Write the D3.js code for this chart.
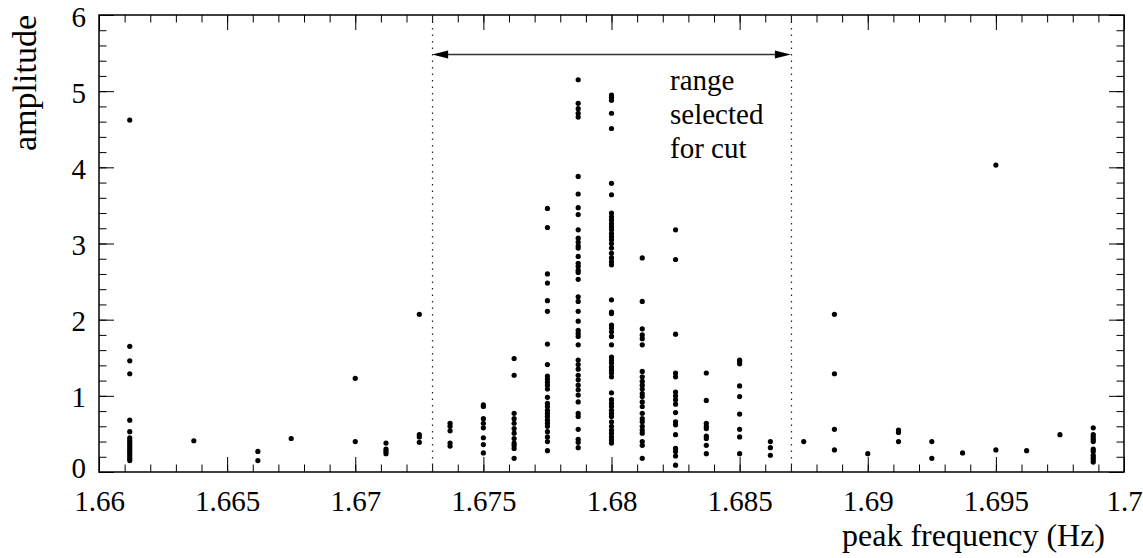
<!DOCTYPE html>
<html>
<head>
<meta charset="utf-8">
<script src="https://cdn.jsdelivr.net/npm/d3@7/dist/d3.min.js"></script>
<style>
body { margin: 0; background: #fff; }
svg text { font-family: "Liberation Serif", "Times New Roman", serif; fill: #000; }
</style>
</head>
<body>
<div id="chart"></div>
<script>
// peak frequency of each column of points (Hz)
var freqs = [1.6612, 1.6637, 1.6662, 1.6675, 1.67, 1.6712, 1.6725, 1.6737, 1.675, 1.6762,
    1.6775, 1.6787, 1.68, 1.6812, 1.6825, 1.6837, 1.685, 1.6862, 1.6875, 1.6887,
    1.69, 1.6912, 1.6925, 1.6937, 1.695, 1.6962, 1.6975, 1.6988]

// amplitudes found at each of those frequencies
var amps = [
    [4.62, 1.65, 1.46, 1.29, 0.68, 0.53, 0.45, 0.42, 0.39, 0.36, 0.33, 0.30, 0.27, 0.24, 0.21, 0.18, 0.15],
    [0.41],
    [0.27, 0.15],
    [0.44],
    [1.23, 0.40],
    [0.38, 0.30, 0.27, 0.24],
    [2.07, 0.49, 0.46, 0.39],
    [0.64, 0.60, 0.54, 0.38, 0.34],
    [0.88, 0.86, 0.70, 0.64, 0.58, 0.45, 0.36, 0.25],
    [1.49, 1.27, 0.77, 0.70, 0.64, 0.57, 0.51, 0.44, 0.38, 0.35, 0.31, 0.18],
    [3.46, 3.21, 2.60, 2.48, 2.25, 2.11, 1.68, 1.41, 1.26, 1.22, 1.18, 1.14, 1.09, 0.98, 0.90, 0.86,
     0.81, 0.77, 0.73, 0.68, 0.64, 0.60, 0.53, 0.46, 0.40, 0.28],
    [5.15, 4.84, 4.77, 4.71, 4.66, 3.88, 3.65, 3.47, 3.38, 3.18, 3.07, 3.02, 2.97, 2.94, 2.83, 2.74,
     2.70, 2.65, 2.62, 2.53, 2.30, 2.24, 2.11, 1.98, 1.86, 1.82, 1.78, 1.67, 1.47, 1.41, 1.35, 1.27,
     1.21, 1.14, 1.08, 1.01, 0.92, 0.77, 0.73, 0.56, 0.43, 0.39, 0.32],
    [4.95, 4.92, 4.88, 4.71, 4.51, 3.79, 3.64, 3.40, 3.35, 3.31, 3.26, 3.22, 3.18, 3.13, 3.09, 3.05,
     3.00, 2.94, 2.87, 2.81, 2.76, 2.72, 2.26, 2.10, 2.08, 1.93, 1.89, 1.84, 1.78, 1.67, 1.51, 1.47,
     1.43, 1.38, 1.34, 1.30, 1.25, 1.04, 0.95, 0.90, 0.86, 0.81, 0.77, 0.73, 0.66, 0.60, 0.55, 0.51,
     0.46, 0.42, 0.38],
    [2.81, 2.24, 1.88, 1.80, 1.75, 1.67, 1.32, 1.25, 1.19, 1.14, 1.09, 1.03, 0.99, 0.92, 0.86, 0.77,
     0.70, 0.66, 0.60, 0.55, 0.51, 0.40, 0.35, 0.18],
    [3.18, 2.79, 1.81, 1.30, 1.25, 1.05, 1.00, 0.95, 0.89, 0.78, 0.66, 0.62, 0.49, 0.31, 0.27, 0.21, 0.09],
    [1.30, 0.94, 0.64, 0.60, 0.57, 0.47, 0.44, 0.35, 0.24],
    [1.47, 1.45, 1.42, 1.13, 0.99, 0.76, 0.56, 0.46, 0.24],
    [0.40, 0.32, 0.22],
    [0.40],
    [2.07, 1.29, 0.56, 0.29],
    [0.24],
    [0.55, 0.52, 0.40],
    [0.40, 0.18],
    [0.25],
    [4.03, 0.29],
    [0.28],
    [0.49],
    [0.58, 0.49, 0.46, 0.43, 0.40, 0.30, 0.27, 0.22, 0.19, 0.16, 0.13]
]

var xMajor = [1.66, 1.665, 1.67, 1.675, 1.68, 1.685, 1.69, 1.695, 1.7]
var yMajor = [0, 1, 2, 3, 4, 5, 6]
var cutRange = [1.673, 1.687]
var cutLabel = ["range", "selected", "for cut"]

function draw() {
    var width = 1143, height = 558
    var margin = {left: 99, right: 19, top: 15, bottom: 86}
    var font = '"Liberation Serif", "Times New Roman", serif'

    var svg = d3.select("#chart").append("svg")
        .attr("width", width)
        .attr("height", height)
        .attr("font-family", font)

    var x = d3.scaleLinear().domain([1.66, 1.7]).range([margin.left, width - margin.right])
    var y = d3.scaleLinear().domain([0, 6]).range([height - margin.bottom, margin.top])

    var xMinor = d3.range(0, 41).map((i) => 1.66 + i * 0.001)
    var yMinor = d3.range(0, 31).map((i) => i * 0.2)
    var fmt = (d) => String(+d.toFixed(4))

    var bottom = height - margin.bottom, top = margin.top
    var left = margin.left, right = width - margin.right

    // ticks on all four sides, pointing inward
    function addAxis(axis, tx, ty, vals, size, labels, pad) {
        var g = svg.append("g")
            .attr("transform", "translate(" + tx + "," + ty + ")")
            .call(axis.tickValues(vals).tickSize(size).tickPadding(pad || 3)
                .tickFormat(labels ? fmt : ""))
        g.select(".domain").remove()
        g.attr("font-family", font)
        g.selectAll("line").attr("stroke", "#000")
        g.selectAll("text").attr("font-size", 29)
        return g
    }

    addAxis(d3.axisBottom(x), 0, bottom, xMinor, -7.5, false)
    addAxis(d3.axisBottom(x), 0, bottom, xMajor, -15, true, 18)
    addAxis(d3.axisTop(x), 0, top, xMinor, -7.5, false)
    addAxis(d3.axisTop(x), 0, top, xMajor, -15, false)
    addAxis(d3.axisLeft(y), left, 0, yMinor, -7.5, false)
    addAxis(d3.axisLeft(y), left, 0, yMajor, -15, true, 13)
        .selectAll("text").attr("dy", (d) => d == 0 ? "0.18em" : "0.38em")
    addAxis(d3.axisRight(y), right, 0, yMinor, -7.5, false)
    addAxis(d3.axisRight(y), right, 0, yMajor, -15, false)

    svg.append("rect")
        .attr("x", left).attr("y", top)
        .attr("width", right - left).attr("height", bottom - top)
        .attr("fill", "none")
        .attr("stroke", "#000")
        .attr("stroke-width", 1.5)

    // cut range: dotted lines and double arrow
    svg.append("g").selectAll("line")
        .data(cutRange)
        .enter().append("line")
        .attr("x1", (d) => Math.round(x(d)) + 0.5)
        .attr("x2", (d) => Math.round(x(d)) + 0.5)
        .attr("y1", top)
        .attr("y2", bottom)
        .attr("stroke", "#222")
        .attr("stroke-width", 1.2)
        .attr("stroke-dasharray", "1.5,5")

    var arrowY = 54.5
    var x0 = x(cutRange[0]), x1 = x(cutRange[1])
    svg.append("line")
        .attr("x1", x0 + 10).attr("x2", x1 - 10)
        .attr("y1", arrowY).attr("y2", arrowY)
        .attr("stroke", "#333")
        .attr("stroke-width", 1.3)
    svg.append("path")
        .attr("d", "M" + x0 + "," + arrowY + "L" + (x0 + 16) + "," + (arrowY - 4) +
            "L" + (x0 + 16) + "," + (arrowY + 4) + "Z")
        .attr("fill", "#000")
    svg.append("path")
        .attr("d", "M" + x1 + "," + arrowY + "L" + (x1 - 16) + "," + (arrowY - 4) +
            "L" + (x1 - 16) + "," + (arrowY + 4) + "Z")
        .attr("fill", "#000")

    svg.append("text")
        .attr("x", 670)
        .attr("y", 90)
        .attr("font-size", 29)
        .selectAll("tspan")
        .data(cutLabel)
        .enter().append("tspan")
        .attr("x", 670)
        .attr("dy", (d, i) => i == 0 ? 0 : 34)
        .text((d) => d)

    // points
    var points = []
    freqs.forEach((f, i) => {
        amps[i].forEach((a) => { points.push({"freq": f, "amp": a}) })
    })

    svg.append("g").selectAll("circle")
        .data(points)
        .enter().append("circle")
        .attr("cx", (d) => x(d.freq))
        .attr("cy", (d) => y(d.amp))
        .attr("r", 2.6)
        .attr("fill", "#000")

    // axis titles
    svg.append("text")
        .attr("x", 1105)
        .attr("y", 546)
        .attr("text-anchor", "end")
        .attr("font-size", 32)
        .text("peak frequency (Hz)")

    svg.append("text")
        .attr("transform", "translate(36," + top + ") rotate(-90)")
        .attr("text-anchor", "end")
        .attr("font-size", 34)
        .text("amplitude")
}

draw()
</script>
</body>
</html>
